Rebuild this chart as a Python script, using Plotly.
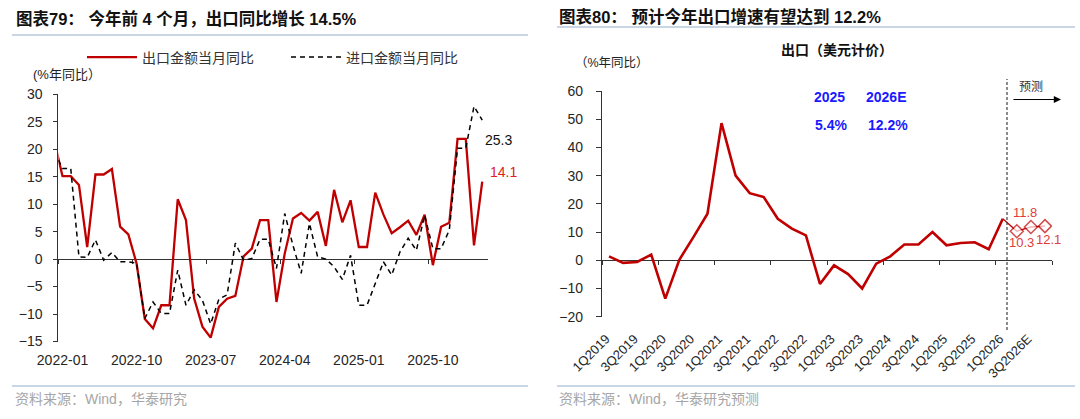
import plotly.graph_objects as go

W, H = 1080, 419

# ---------------- Left panel data: monthly export / import yoy (%) ----------------
months = (["2021-12"]
          + [f"{y}-{m:02d}" for y in range(2022, 2026) for m in range(1, 13)]
          + ["2026-01", "2026-02", "2026-03", "2026-04"])
export_yoy = [21.5,
              15.1, 15.1, 13.5, 2.2, 15.4, 15.4, 16.4, 5.9, 4.5, -0.8, -10.9, -12.6,
              -8.4, -8.4, 10.9, 7.1, -7.2, -12.3, -14.3, -8.7, -7.2, -6.7, 0.5, 1.9,
              7.1, 7.1, -7.8, 1.0, 7.4, 8.4, 7.0, 8.6, 2.4, 12.6, 6.7, 10.7,
              2.2, 2.2, 12.1, 8.1, 4.7, 5.8, 7.0, 4.4, 8.1, -1.1, 5.9, 6.6,
              21.9, 21.9, 2.5, 14.1]
import_yoy = [19.5,
              16.5, 16.5, 0.4, 0.3, 3.5, -0.2, 1.2, -0.5, -0.5, -0.7, -10.8, -7.8,
              -9.9, -9.9, -2.0, -8.4, -5.6, -7.5, -11.8, -7.3, -6.5, 2.9, -0.2, 0.1,
              3.6, 3.6, -1.7, 8.3, 2.5, -2.6, 6.5, 0.4, 0.0, -1.4, -3.7, 0.7,
              -8.4, -8.4, -4.5, -0.5, -2.9, 1.3, 3.8, 1.6, 8.0, 1.9, 1.9, 5.3,
              20.2, 20.2, 27.8, 25.3]
month_ticks = ["2022-01", "2022-10", "2023-07", "2024-04", "2025-01", "2025-10"]
left_yticks = [-15, -10, -5, 0, 5, 10, 15, 20, 25, 30]
export_name = "出口金额当月同比"
import_name = "进口金额当月同比"

# ---------------- Right panel data: quarterly export yoy (%) ----------------
quarters = ([f"{q}Q{y}" for y in range(2019, 2026) for q in range(1, 5)]
            + ["1Q2026", "2Q2026E", "3Q2026E", "4Q2026E"])
export_q = [1.4, -0.9, -0.6, 2.0,
            -13.6, 0.2, 8.2, 16.5,
            48.6, 30.0, 23.8, 22.4,
            14.7, 11.2, 8.8, -8.4,
            -1.8, -4.9, -10.0, -1.2,
            1.4, 5.6, 5.6, 10.0,
            5.3, 6.1, 6.4, 3.9,
            14.7]
forecast_q = ["1Q2026", "2Q2026E", "3Q2026E", "4Q2026E"]
forecast_vals = [14.7, 10.3, 11.8, 12.1]
quarter_ticks = quarters[::2]
right_yticks = [-20, -10, 0, 10, 20, 30, 40, 50, 60]
annual_years = ["2025", "2026E"]
annual_growth = [5.4, 12.2]

# ---------------- layout helpers (pixel -> paper) ----------------
def fx(px):
    return px / W

def fy(py):
    return 1 - py / H

RED = "#c00000"
FONT = "Arial, 'Liberation Sans', 'Noto Sans CJK SC', sans-serif"
TICK_COLOR = "#262626"
AXIS_COLOR = "#333333"

# plot areas (pixels)
L_X0, L_X1, L_YT, L_YB = 58.4, 488.0, 94.3, 341.5
R_X0, R_X1, R_YT, R_YB = 602.0, 1052.0, 91.0, 316.7

l_dom_x = [fx(L_X0), fx(L_X1)]
l_dom_y = [fy(L_YB), fy(L_YT)]
r_dom_x = [fx(R_X0), fx(R_X1)]
r_dom_y = [fy(R_YB), fy(R_YT)]

l_yrange = [min(left_yticks), max(left_yticks)]
r_yrange = [min(right_yticks), max(right_yticks)]
l_xrange = [months.index("2022-01") - 0.5, len(months) - 1 + 0.7]
r_xrange = [-0.5, len(quarters) - 0.5]

l_zero = l_dom_y[0] + (0 - l_yrange[0]) / (l_yrange[1] - l_yrange[0]) * (l_dom_y[1] - l_dom_y[0])
r_zero = r_dom_y[0] + (0 - r_yrange[0]) / (r_yrange[1] - r_yrange[0]) * (r_dom_y[1] - r_dom_y[0])

l_bound_ticks = [months.index(m) - 0.5 for m in month_ticks]
r_bound_ticks = [quarters.index(q) - 0.5 for q in quarters if q.startswith("1Q")] + [len(quarters) - 0.5]

fig = go.Figure()

# left panel traces
fig.add_trace(go.Scatter(x=months, y=export_yoy, mode="lines", name=export_name,
                         line=dict(color=RED, width=2.3), xaxis="x", yaxis="y"))
fig.add_trace(go.Scatter(x=months, y=import_yoy, mode="lines", name=import_name,
                         line=dict(color="#000000", width=1.5, dash="5px,4px"),
                         xaxis="x", yaxis="y"))
# right panel traces
fig.add_trace(go.Scatter(x=quarters[:len(export_q)], y=export_q, mode="lines",
                         line=dict(color=RED, width=2.6), showlegend=False,
                         xaxis="x2", yaxis="y2"))
fig.add_trace(go.Scatter(x=forecast_q, y=forecast_vals, mode="lines+markers",
                         line=dict(color=RED, width=1.3),
                         marker=dict(symbol="diamond", size=[0, 10, 10, 10], color="white",
                                     line=dict(color=RED, width=1.5)),
                         showlegend=False, xaxis="x2", yaxis="y2"))
# empty traces so the zero-line axes exist
fig.add_trace(go.Scatter(x=[], y=[], xaxis="x3", yaxis="y", showlegend=False, hoverinfo="skip"))
fig.add_trace(go.Scatter(x=[], y=[], xaxis="x4", yaxis="y2", showlegend=False, hoverinfo="skip"))

tickfont = dict(family=FONT, size=14, color=TICK_COLOR)

fig.update_layout(
    template="none",
    width=W, height=H, margin=dict(l=0, r=0, t=0, b=0, pad=0, autoexpand=False),
    paper_bgcolor="white", plot_bgcolor="white",
    font=dict(family=FONT, color=TICK_COLOR),
    showlegend=True,
    legend=dict(orientation="h", x=fx(82), xanchor="left", y=fy(41.5), yanchor="top",
                itemwidth=50, entrywidth=139, entrywidthmode="pixels",
                font=dict(family=FONT, size=14, color="#333333"),
                bgcolor="rgba(0,0,0,0)", borderwidth=0),
    xaxis=dict(domain=l_dom_x, anchor="y", type="category", categoryorder="array",
               categoryarray=months, range=l_xrange, showline=False, ticks="",
               tickmode="array", tickvals=month_ticks, ticktext=month_ticks,
               tickfont=tickfont, showgrid=False, zeroline=False, ticklabelstandoff=8,
               automargin=False),
    yaxis=dict(domain=l_dom_y, anchor="x", range=l_yrange, tickmode="array",
               tickvals=left_yticks, ticks="outside", ticklen=4, tickcolor=AXIS_COLOR,
               showline=True, linecolor=AXIS_COLOR, linewidth=1.2, showgrid=False,
               zeroline=False, tickfont=tickfont, ticklabelstandoff=8, automargin=False),
    xaxis3=dict(overlaying="x", anchor="free", position=l_zero, domain=l_dom_x,
                type="linear", range=l_xrange, tickmode="array", tickvals=l_bound_ticks,
                ticks="outside", ticklen=4, tickcolor=AXIS_COLOR, showline=True,
                linecolor=AXIS_COLOR, linewidth=1.2, showticklabels=False,
                showgrid=False, zeroline=False, layer="below traces", automargin=False),
    xaxis2=dict(domain=r_dom_x, anchor="y2", type="category", categoryorder="array",
                categoryarray=quarters, range=r_xrange, showline=False, ticks="",
                tickmode="array", tickvals=quarter_ticks, ticktext=quarter_ticks,
                tickangle=-45, tickfont=dict(family=FONT, size=13, color=TICK_COLOR),
                showgrid=False, zeroline=False, ticklabelstandoff=11, ticklabelshift=-3,
                automargin=False),
    yaxis2=dict(domain=r_dom_y, anchor="x2", range=r_yrange, tickmode="array",
                tickvals=right_yticks, ticks="outside", ticklen=5, tickcolor=AXIS_COLOR,
                showline=True, linecolor=AXIS_COLOR, linewidth=1.2, showgrid=False,
                zeroline=False, tickfont=tickfont, ticklabelstandoff=10, automargin=False),
    xaxis4=dict(overlaying="x2", anchor="free", position=r_zero, domain=r_dom_x,
                type="linear", range=r_xrange, tickmode="array", tickvals=r_bound_ticks,
                ticks="outside", ticklen=4, tickcolor=AXIS_COLOR, showline=True,
                linecolor=AXIS_COLOR, linewidth=1.2, showticklabels=False,
                showgrid=False, zeroline=False, layer="below traces", automargin=False),
)

LINE_BLUE = "#b7c9dd"
shapes = [
    dict(type="line", xref="paper", yref="paper", x0=fx(12), x1=fx(528), y0=fy(35), y1=fy(35),
         line=dict(color=LINE_BLUE, width=1.5)),
    dict(type="line", xref="paper", yref="paper", x0=fx(557), x1=fx(1075), y0=fy(27), y1=fy(27),
         line=dict(color=LINE_BLUE, width=1.5)),
    dict(type="line", xref="paper", yref="paper", x0=fx(12), x1=fx(528), y0=fy(386), y1=fy(386),
         line=dict(color=LINE_BLUE, width=1.5)),
    dict(type="line", xref="paper", yref="paper", x0=fx(557), x1=fx(1075), y0=fy(386), y1=fy(386),
         line=dict(color=LINE_BLUE, width=1.5)),
    # forecast divider
    dict(type="line", xref="x4", yref="paper",
         x0=quarters.index("1Q2026") + 0.3, x1=quarters.index("1Q2026") + 0.3,
         y0=fy(330), y1=fy(79), line=dict(color="#404040", width=1.2, dash="3px,2px")),
]
fig.update_layout(shapes=shapes)

ann = []
def text(x, y, s, size=14, color="#000000", xanchor="left", bold=False, **kw):
    ann.append(dict(xref="paper", yref="paper", x=fx(x), y=fy(y), text=(f"<b>{s}</b>" if bold else s),
                    showarrow=False, xanchor=xanchor, yanchor="middle",
                    font=dict(family=FONT, size=size, color=color), **kw))

text(13.5, 18.5, "图表79：&nbsp;今年前 4 个月，出口同比增长 14.5%", size=16.5, bold=True, color="#111111")
text(557, 16.7, "图表80：&nbsp;预计今年出口增速有望达到 12.2%", size=16.5, bold=True, color="#111111")
text(31, 74, "(%年同比）", size=13, color="#222222")
text(573, 63.3, "（%年同比）", size=12.5, color="#222222")
text(837, 50, "出口（美元计价）", size=14, bold=True, color="#111111", xanchor="center")
text(13.3, 398.5, "资料来源：Wind，华泰研究", size=14, color="#a6a6a6")
text(557, 398.5, "资料来源：Wind，华泰研究预测", size=14, color="#a6a6a6")
text(1031, 86.7, "预测", size=12, color="#333333", xanchor="center")

BLUE = "#1a1aff"
for xpos, yr, g in zip([829, 886], annual_years, annual_growth):
    text(xpos, 96.7, yr, size=14, bold=True, color=BLUE, xanchor="center")
    text(xpos + 2, 125, f"{g:.1f}%", size=14, bold=True, color=BLUE, xanchor="center")

# forecast arrow
ann.append(dict(xref="paper", yref="paper", x=fx(1061), y=fy(99.5), ax=-49, ay=0,
                axref="pixel", ayref="pixel", text="", showarrow=True,
                arrowhead=2, arrowsize=1.2, arrowwidth=1.2, arrowcolor="#000000"))

# end-of-series labels (left)
ann.append(dict(xref="x", yref="y", x=months[-1], y=export_yoy[-1], text=f"{export_yoy[-1]:.1f}",
                showarrow=False, xanchor="left", yanchor="middle", xshift=6, yshift=10,
                font=dict(family=FONT, size=14, color="#e02020")))
ann.append(dict(xref="x", yref="y", x=months[-1], y=import_yoy[-1], text=f"{import_yoy[-1]:.1f}",
                showarrow=False, xanchor="left", yanchor="middle", xshift=1, yshift=-20,
                font=dict(family=FONT, size=14, color="#111111")))

# forecast labels (right)
LABEL_RED = "#e03c3c"
shifts = {"2Q2026E": (5, -11), "3Q2026E": (-6, 14), "4Q2026E": (4, -13)}
for q, v in zip(forecast_q, forecast_vals):
    if q in shifts:
        dx, dy = shifts[q]
        ann.append(dict(xref="x2", yref="y2", x=q, y=v, text=f"{v:.1f}", showarrow=False,
                        xanchor="center", yanchor="middle", xshift=dx, yshift=dy,
                        font=dict(family=FONT, size=13, color=LABEL_RED)))

fig.update_layout(annotations=ann)
fig.write_html("out.html")
